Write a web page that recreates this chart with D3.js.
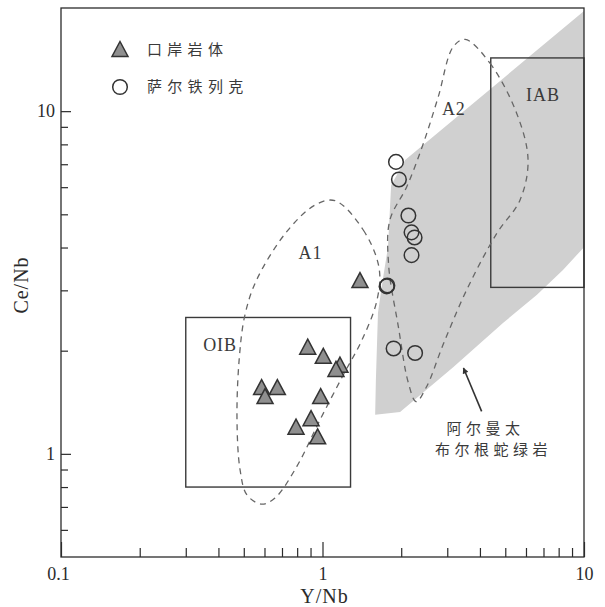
<!DOCTYPE html>
<html>
<head>
<meta charset="utf-8">
<script src="https://cdn.jsdelivr.net/npm/d3@7"></script>
<style>
  html, body { margin: 0; padding: 0; background: #fff; }
  svg { display: block; }
</style>
</head>
<body>
<svg id="chart" width="605" height="607"></svg>
<script>
// Axis ticks
const xMajorTicks = [0.1, 1, 10];
const xMinorTicks = [0.2, 0.3, 0.4, 0.5, 0.6, 0.7, 0.8, 0.9, 2, 3, 4, 5, 6, 7, 8, 9];
const yMajorTicks = [1, 10];
const yMinorTicks = [0.6, 0.7, 0.8, 0.9, 2, 3, 4, 5, 6, 7, 8, 9];

// 口岸岩体 samples (Y/Nb, Ce/Nb)
const kouanYNb = [0.878, 1.007, 1.166, 1.126, 0.585, 0.672, 0.603, 0.984, 0.904, 0.792, 0.958, 1.391];
const kouanCeNb = [2.02, 1.90, 1.79, 1.74, 1.54, 1.54, 1.45, 1.45, 1.25, 1.18, 1.106, 3.16];

// 萨尔铁列克 samples (Y/Nb, Ce/Nb)
const saerYNb = [1.91, 1.96, 2.13, 2.19, 2.25, 2.19, 1.76, 1.77, 1.87, 2.26];
const saerCeNb = [7.11, 6.32, 4.96, 4.43, 4.28, 3.80, 3.08, 3.10, 2.03, 1.97];

// 阿尔曼太布尔根蛇绿岩 field outline
const ophioliteYNb = [10, 2.07, 1.83, 1.78, 1.70, 1.63, 1.60, 1.59, 1.98, 3.16, 4.90, 6.61, 8.31, 10];
const ophioliteCeNb = [19.6, 7.2, 6.08, 4.01, 3.22, 2.58, 1.64, 1.30, 1.325, 1.79, 2.41, 2.91, 3.44, 4.01];

// A1 field outline
const a1YNb = [1.116, 1.432, 1.645, 1.616, 1.416, 1.201, 0.978, 0.797, 0.658, 0.585, 0.514, 0.484, 0.471, 0.480, 0.505, 0.560, 0.730, 0.936];
const a1CeNb = [5.48, 4.50, 3.49, 2.81, 2.15, 1.70, 1.256, 0.918, 0.743, 0.713, 0.759, 0.898, 1.256, 1.88, 2.54, 3.22, 4.45, 5.32];

// A2 field outline
const a2YNb = [3.51, 4.37, 5.53, 6.11, 5.69, 4.64, 3.56, 2.89, 2.50, 2.28, 2.13, 1.95, 1.79, 1.81, 2.10, 2.43, 2.77, 3.16];
const a2CeNb = [16.2, 13.8, 9.85, 7.20, 5.50, 4.40, 3.01, 2.08, 1.57, 1.42, 1.61, 2.35, 3.56, 4.81, 6.02, 8.05, 11.0, 15.4];

// Reference boxes: [Y/Nb min, Y/Nb max, Ce/Nb min, Ce/Nb max]
const boxNames = ["OIB", "IAB"];
const boxYNb = [[0.3, 1.28], [4.4, 10]];
const boxCeNb = [[0.8, 2.5], [3.06, 14.3]];

const legendLabels = ["口岸岩体", "萨尔铁列克"];
const fieldLabel = ["阿尔曼太", "布尔根蛇绿岩"];

// ---------------------------------------------------------------
const svg = d3.select("#chart");
const margin = { left: 61, right: 21, top: 8, bottom: 50 };
const W = 605, H = 607;
const x = d3.scaleLog().domain([0.1, 10]).range([margin.left, W - margin.right]);
const y = d3.scaleLog().domain([0.5, 20]).range([H - margin.bottom, margin.top]);

const ink = "#2b2b2b";
const serif = "'Liberation Serif', 'DejaVu Serif', serif";
const cjk = "'Noto Sans CJK SC', sans-serif";

const pts = (xs, ys) => xs.map((v, i) => [x(v), y(ys[i])]);

// Ophiolite shaded field
svg.append("path")
  .attr("d", d3.line()(pts(ophioliteYNb, ophioliteCeNb)) + "Z")
  .attr("fill", "#d0d0d0")
  .attr("stroke", "none");

// Reference boxes
boxNames.forEach((name, i) => {
  svg.append("rect")
    .attr("x", x(boxYNb[i][0]))
    .attr("y", y(boxCeNb[i][1]))
    .attr("width", x(boxYNb[i][1]) - x(boxYNb[i][0]))
    .attr("height", y(boxCeNb[i][0]) - y(boxCeNb[i][1]))
    .attr("fill", "none")
    .attr("stroke", "#3a3a3a")
    .attr("stroke-width", 1.4);
});

// Dashed fields A1 and A2
const loop = d3.line().curve(d3.curveCatmullRomClosed.alpha(0.5));
[[a1YNb, a1CeNb], [a2YNb, a2CeNb]].forEach(([xs, ys]) => {
  svg.append("path")
    .attr("d", loop(pts(xs, ys)))
    .attr("fill", "none")
    .attr("stroke", "#666")
    .attr("stroke-width", 1.3)
    .attr("stroke-dasharray", "6,5");
});

// Frame
svg.append("rect")
  .attr("x", margin.left).attr("y", margin.top)
  .attr("width", W - margin.left - margin.right)
  .attr("height", H - margin.top - margin.bottom)
  .attr("fill", "none").attr("stroke", ink).attr("stroke-width", 1.3);

// Axes: ticks point inward
function styleAxis(g) {
  g.select(".domain").remove();
  g.selectAll("line").attr("stroke", ink).attr("stroke-width", 1.2);
  g.selectAll("text").attr("font-family", serif).attr("font-size", 18).attr("fill", ink);
}
svg.append("g").attr("transform", `translate(0,${H - margin.bottom})`)
  .call(d3.axisBottom(x).tickValues(xMinorTicks).tickSize(-9).tickFormat(""))
  .call(styleAxis);
svg.append("g").attr("transform", `translate(0,${H - margin.bottom})`)
  .call(d3.axisBottom(x).tickValues(xMajorTicks).tickSize(-15).tickPadding(10).tickFormat(d3.format("~g")))
  .call(styleAxis)
  .call(g => g.selectAll(".tick").filter(d => d === 0.1).select("text").attr("dx", -3));
svg.append("g").attr("transform", `translate(${margin.left},0)`)
  .call(d3.axisLeft(y).tickValues(yMinorTicks).tickSize(-7).tickFormat(""))
  .call(styleAxis);
svg.append("g").attr("transform", `translate(${margin.left},0)`)
  .call(d3.axisLeft(y).tickValues(yMajorTicks).tickSize(-10).tickPadding(6).tickFormat(d3.format("~g")))
  .call(styleAxis);

// Axis titles
svg.append("text")
  .attr("x", (x(0.1) + x(10)) / 2 + 2).attr("y", 603)
  .attr("text-anchor", "middle")
  .attr("font-family", serif).attr("font-size", 20).attr("letter-spacing", 1)
  .attr("fill", ink).text("Y/Nb");
svg.append("text")
  .attr("transform", `translate(28,${285}) rotate(-90)`)
  .attr("text-anchor", "middle")
  .attr("font-family", serif).attr("font-size", 20).attr("letter-spacing", 1)
  .attr("fill", ink).text("Ce/Nb");

// Field labels
const fieldText = [
  { t: "A1", px: x(0.9), py: y(3.86) },
  { t: "A2", px: x(3.18), py: y(10.2) },
  { t: "IAB", px: x(6.97), py: y(11.2) },
  { t: "OIB", px: x(0.406), py: y(2.08) }
];
fieldText.forEach(d => {
  svg.append("text")
    .attr("x", d.px).attr("y", d.py)
    .attr("text-anchor", "middle").attr("dy", "0.35em")
    .attr("font-family", serif).attr("font-size", 18).attr("letter-spacing", 1)
    .attr("fill", "#3a3a3a").text(d.t);
});

// Markers
const triPath = (w, h) => `M0,${-2 * h / 3}L${w / 2},${h / 3}L${-w / 2},${h / 3}Z`;
svg.append("g").selectAll("path")
  .data(d3.range(kouanYNb.length))
  .join("path")
  .attr("transform", i => `translate(${x(kouanYNb[i])},${y(kouanCeNb[i])})`)
  .attr("d", triPath(16, 15))
  .attr("fill", "#8f8f8f")
  .attr("stroke", "#333")
  .attr("stroke-width", 1.5)
  .attr("stroke-linejoin", "miter");

svg.append("g").selectAll("circle")
  .data(d3.range(saerYNb.length))
  .join("circle")
  .attr("cx", i => x(saerYNb[i]))
  .attr("cy", i => y(saerCeNb[i]))
  .attr("r", 7.3)
  .attr("fill", "none")
  .attr("stroke", "#333")
  .attr("stroke-width", 1.5);

// Legend
const legend = svg.append("g");
legend.append("path")
  .attr("transform", "translate(120,51.5)")
  .attr("d", triPath(16, 15))
  .attr("fill", "#8f8f8f").attr("stroke", "#333").attr("stroke-width", 1.5);
legend.append("circle")
  .attr("cx", 120).attr("cy", 87).attr("r", 7.3)
  .attr("fill", "none").attr("stroke", "#333").attr("stroke-width", 1.5);
legendLabels.forEach((t, i) => {
  legend.append("text")
    .attr("x", 147).attr("y", 50 + i * 37).attr("dy", "0.36em")
    .attr("font-family", cjk).attr("font-size", 15).attr("letter-spacing", 5.3)
    .attr("fill", "#3a3a3a").text(t);
});

// Ophiolite field annotation with arrow
const defs = svg.append("defs");
defs.append("marker")
  .attr("id", "head").attr("viewBox", "0 0 10 10")
  .attr("refX", 9).attr("refY", 5)
  .attr("markerWidth", 9).attr("markerHeight", 6)
  .attr("markerUnits", "userSpaceOnUse")
  .attr("orient", "auto")
  .append("path").attr("d", "M0,0L10,5L0,10Z").attr("fill", "#333");
svg.append("line")
  .attr("x1", x(4.06)).attr("y1", y(1.33))
  .attr("x2", x(3.46)).attr("y2", y(1.78))
  .attr("stroke", "#333").attr("stroke-width", 1.6)
  .attr("marker-end", "url(#head)");
fieldLabel.forEach((t, i) => {
  svg.append("text")
    .attr("x", i === 0 ? 485.5 : 493.5).attr("y", 429 + i * 21).attr("dy", "0.36em")
    .attr("text-anchor", "middle")
    .attr("font-family", cjk).attr("font-size", 15).attr("letter-spacing", 4.5)
    .attr("fill", "#3a3a3a").text(t);
});
</script>
</body>
</html>
